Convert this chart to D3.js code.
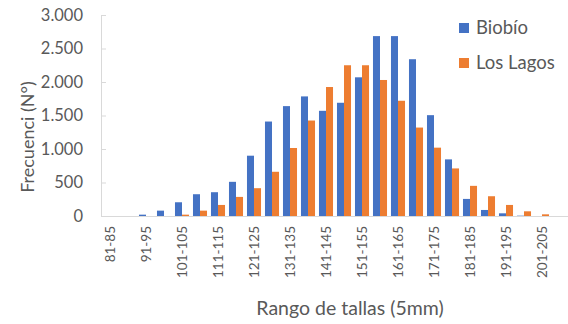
<!DOCTYPE html>
<html><head><meta charset="utf-8">
<script src="https://cdn.jsdelivr.net/npm/d3@7"></script>
<style>
html,body{margin:0;padding:0;background:#fff;}
svg{display:block;font-family:Lato,"Open Sans",sans-serif;}
</style></head>
<body><svg id="c" width="568" height="324"></svg>
<script>
const categories = ["81-85","86-90","91-95","96-100","101-105","106-110","111-115","116-120","121-125","126-130","131-135","136-140","141-145","146-150","151-155","156-160","161-165","166-170","171-175","176-180","181-185","186-190","191-195","196-200","201-205","206-210"];
const biobio = [0,0,20,80,205,325,355,510,900,1410,1640,1785,1570,1690,2070,2685,2685,2340,1505,845,255,90,40,5,0,0];
const losLagos = [0,0,0,0,20,80,165,285,415,660,1015,1425,1925,2250,2250,2030,1720,1320,1020,710,450,295,165,70,25,0];
const seriesNames = ["Biobío","Los Lagos"];
const seriesColors = ["#4472C4","#ED7D31"];
const yTicks = [0,500,1000,1500,2000,2500,3000];
const xLabelShown = ["81-85","91-95","101-105","111-115","121-125","131-135","141-145","151-155","161-165","171-175","181-185","191-195","201-205"];

const svg = d3.select("#c");
const x0 = 101, x1 = 569, yTop = 15, yBot = 216;
const x = d3.scaleBand().domain(categories).range([x0, x1]).paddingInner(0.22).paddingOuter(0.11);
const xs = d3.scaleBand().domain(seriesNames).range([0, x.bandwidth()]).padding(0);
const y = d3.scaleLinear().domain([0, 3000]).range([yBot, yTop]);
const fmt = v => d3.format(",")(v).replace(/,/g, ".");

// Y axis
const ya = svg.append("g").attr("transform", `translate(${x0},0)`)
  .call(d3.axisRight(y).tickValues(yTicks).tickSize(5).tickFormat(""));
ya.select(".domain").attr("stroke", "#d9d9d9");
ya.selectAll(".tick line").attr("stroke", "#d9d9d9");
svg.append("g").selectAll("text").data(yTicks).join("text")
  .attr("x", 83).attr("y", d => y(d)).attr("dy", "0.35em")
  .attr("text-anchor", "end").attr("fill", "#595959").attr("font-size", 16.5)
  .text(fmt);

// bars
const data = categories.map((c, i) => ({c, vals: [biobio[i], losLagos[i]]}));
const g = svg.append("g").selectAll("g").data(data).join("g")
  .attr("transform", d => `translate(${x(d.c)},0)`);
g.selectAll("rect").data(d => d.vals.map((v, j) => ({v, s: seriesNames[j], col: seriesColors[j]})))
  .join("rect")
  .attr("x", d => xs(d.s)).attr("width", xs.bandwidth())
  .attr("y", d => y(d.v)).attr("height", d => yBot - y(d.v))
  .attr("fill", d => d.col);

// X axis
const xa = svg.append("g").attr("transform", `translate(0,${yBot})`)
  .call(d3.axisBottom(x).tickSize(0).tickFormat(""));
xa.select(".domain").attr("stroke", "#d9d9d9");
svg.append("g").selectAll("text").data(xLabelShown).join("text")
  .attr("transform", d => `translate(${x(d) + x.bandwidth()/2 + 5},226) rotate(-90)`)
  .attr("text-anchor", "end").attr("fill", "#595959").attr("font-size", 13.5)
  .text(d => d);

// axis titles
svg.append("text").attr("transform", "translate(34,137) rotate(-90)")
  .attr("text-anchor", "middle").attr("fill", "#595959").attr("font-size", 18)
  .text("Frecuenci (N°)");
svg.append("text").attr("x", 350).attr("y", 315)
  .attr("text-anchor", "middle").attr("fill", "#595959").attr("font-size", 19.5)
  .text("Rango de tallas (5mm)");

// legend
const lg = svg.append("g").selectAll("g").data(seriesNames).join("g")
  .attr("transform", (d, i) => `translate(459,${28 + i * 35})`);
lg.append("rect").attr("x", 0).attr("y", -5).attr("width", 10).attr("height", 10)
  .attr("fill", (d, i) => seriesColors[i]);
lg.append("text").attr("x", 17).attr("dy", "0.35em").attr("fill", "#595959")
  .attr("font-size", 18.5).text(d => d);
</script></body></html>
